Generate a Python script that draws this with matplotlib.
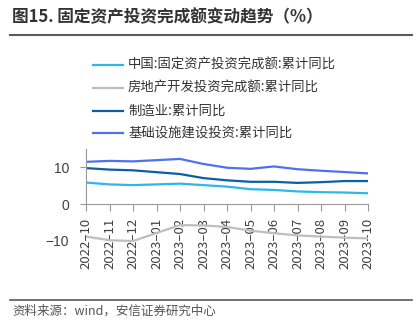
import numpy as np
import matplotlib.pyplot as plt
from matplotlib.lines import Line2D

plt.rcParams['font.family'] = ['Noto Sans CJK SC', 'DejaVu Sans']

months = ['2022-10', '2022-11', '2022-12', '2023-01', '2023-02', '2023-03', '2023-04',
          '2023-05', '2023-06', '2023-07', '2023-08', '2023-09', '2023-10']
# 2023-01 无数据（1-2月合并公布）
fai = [5.8, 5.3, 5.1, None, 5.5, 5.1, 4.7, 4.0, 3.8, 3.4, 3.2, 3.1, 2.9]
real_estate = [-8.8, -9.8, -10.0, None, -5.7, -5.8, -6.2, -7.2, -7.9, -8.5, -8.8, -9.1, -9.3]
manufacturing = [9.7, 9.3, 9.1, None, 8.1, 7.0, 6.4, 6.0, 6.0, 5.7, 5.9, 6.2, 6.2]
infra = [11.39, 11.65, 11.52, None, 12.18, 10.82, 9.8, 9.5, 10.15, 9.4, 8.99, 8.64, 8.26]

names = ['中国:固定资产投资完成额:累计同比', '房地产开发投资完成额:累计同比',
         '制造业:累计同比', '基础设施建设投资:累计同比']
colors = ['#2DB7EA', '#C4BCBC', '#0B5FA5', '#5070F0']
series = [fai, real_estate, manufacturing, infra]

fig = plt.figure(figsize=(4.19, 3.25), dpi=100)
fig.patch.set_facecolor('white')

# 标题和分隔线
fig.text(12 / 419, 1 - 17 / 325, '图15. 固定资产投资完成额变动趋势（%）', fontsize=12,
         fontweight='bold', color='#333333', va='center', ha='left')
fig.add_artist(Line2D([10 / 419, 412 / 419], [1 - 35 / 325] * 2, color='#5a5a5a', lw=1.5))
fig.add_artist(Line2D([10 / 419, 412 / 419], [1 - 300 / 325] * 2, color='#5a5a5a', lw=1.2))
fig.text(12 / 419, 1 - 311 / 325, '资料来源：wind，安信证券研究中心', fontsize=9,
         style='italic', color='#555555', va='center', ha='left')

# 图例
leg_y = [65, 88, 111, 133]
for name, c, yy in zip(names, colors, leg_y):
    fig.add_artist(Line2D([93 / 419, 123 / 419], [1 - yy / 325] * 2, color=c, lw=1.6))
    fig.text(128 / 419, 1 - yy / 325, name, fontsize=9.6, color='#333333',
             va='center', ha='left')

ax = fig.add_axes([86 / 419, 1 - 259.5 / 325, 282 / 419, 111 / 325])
x = np.arange(len(months))
for vals, c in zip(series, colors):
    xs = [i for i, v in zip(x, vals) if v is not None]
    ys = [v for v in vals if v is not None]
    ax.plot(xs, ys, color=c, lw=1.6)

ax.set_xlim(0, 12)
ax.set_ylim(-15, 15)
ax.set_yticks([-10, 0, 10])
ax.set_yticklabels(['−10', '0', '10'])
ax.set_xticks(x)
ax.set_xticklabels([m.replace('-', '–') for m in months])
ax.tick_params(axis='y', labelsize=10, colors='#404040', length=4, width=0.8, pad=8)
ax.tick_params(axis='x', length=5, width=0.8, pad=5, labelsize=9.5,
               labelcolor='#404040', labelrotation=90)
ax.tick_params(axis='both', color='#999999')
for lab in ax.get_xticklabels() + ax.get_yticklabels():
    lab.set_family('Liberation Sans')
ax.yaxis.get_major_ticks()[0].tick1line.set_visible(False)

for s in ['top', 'right']:
    ax.spines[s].set_visible(False)
ax.spines['bottom'].set_position(('data', 0))
ax.spines['left'].set_bounds(0, 15)
for s in ['bottom', 'left']:
    ax.spines[s].set_color('#999999')
    ax.spines[s].set_linewidth(0.8)
ax.patch.set_alpha(0)

fig.savefig('out.png', dpi=100)
